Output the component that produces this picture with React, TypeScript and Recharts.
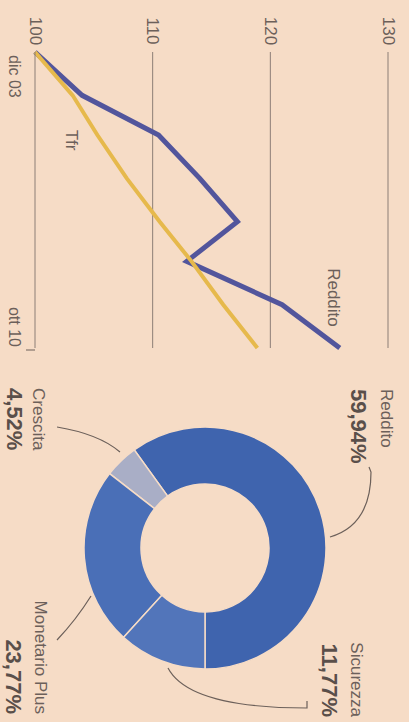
import React from 'react';
import {
  LineChart,
  Line,
  XAxis,
  YAxis,
  ReferenceLine,
  ReferenceDot,
  PieChart,
  Pie,
  Cell,
} from 'recharts';

// Line chart data (months since dic 03, index 100 = dic 03)
const months = [0, 12, 23, 35, 47, 58, 70, 82];
const redditoValues = [100, 104, 110.5, 114, 117.2, 112.9, 121, 125.9];
const tfrValues = [100, 103.2, 105.3, 107.8, 110.6, 113.3, 116, 118.9];
const xTickValues = [0, 82];
const xTickLabels = ['dic 03', 'ott 10'];
const yTicks = [100, 110, 120, 130];
const gridValues = [110, 120, 130];

// Donut data
const sliceNames = ['Reddito', 'Crescita', 'Monetario Plus', 'Sicurezza'];
const sliceShares = [59.94, 4.52, 23.77, 11.77];

const PAPER = '#f6dcc6';
const INK = '#6c605a';
const SLICE_COLORS = ['#3f64ae', '#a9aec6', '#4a6fb7', '#5275ba'];

const FONT = "'Liberation Sans', Arial, sans-serif";

const lineData = months.map((m, i) => ({
  m,
  reddito: redditoValues[i],
  tfr: tfrValues[i],
}));

const pieData = sliceNames.map((name, i) => ({ name, value: sliceShares[i] }));

// label placement for the donut (pie svg coordinates)
const PIE_LABELS: Record<string, { x: number; anchor: 'start' | 'end'; nameY: number; pctY: number; path: string }> = {
  Reddito: { x: 29, anchor: 'start', nameY: 23, pctY: 51, path: 'M 107 40 L 112 38 Q 165 38 177 79' },
  Sicurezza: { x: 357, anchor: 'end', nameY: 53, pctY: 80, path: 'M 308 241 Q 348 220 348 102 L 341 102' },
  Crescita: { x: 28, anchor: 'start', nameY: 371, pctY: 395, path: 'M 67 352 Q 74 310 92 289' },
  'Monetario Plus': { x: 354, anchor: 'end', nameY: 369, pctY: 396, path: 'M 280 352 Q 260 333 236 318' },
};

const fmtPct = (v: number) => `${v.toFixed(2).replace('.', ',')}%`;

const YTick = (props: any) => {
  const { y, payload } = props;
  return (
    <text x={31} y={y} textAnchor="middle" dominantBaseline="central" fill={INK} fontSize={17} fontFamily={FONT}>
      {payload.value}
    </text>
  );
};

const XTick = (props: any) => {
  const { x, payload } = props;
  const idx = xTickValues.indexOf(payload.value);
  const isEnd = idx === xTickValues.length - 1;
  return (
    <g>
      {isEnd && <line x1={x + 2} y1={374} x2={x + 2} y2={383} stroke={INK} strokeWidth={1} />}
      <text
        x={isEnd ? x - 1 : x + 3}
        y={395}
        textAnchor={isEnd ? 'end' : 'start'}
        dominantBaseline="central"
        fill={INK}
        fontSize={16}
        fontFamily={FONT}
      >
        {xTickLabels[idx]}
      </text>
    </g>
  );
};

const seriesLabel = (text: string) => (props: any) => {
  const { viewBox } = props;
  const cx = viewBox.x + (viewBox.width || 0) / 2;
  const cy = viewBox.y + (viewBox.height || 0) / 2;
  return (
    <text x={cx} y={cy} textAnchor="middle" dominantBaseline="central" fill={INK} fontSize={17} fontFamily={FONT}>
      {text}
    </text>
  );
};

const renderPieLabel = (props: any) => {
  const { name, value } = props;
  const l = PIE_LABELS[name];
  if (!l) return null;
  return (
    <g>
      <path d={l.path} fill="none" stroke={INK} strokeWidth={1.2} />
      <text x={l.x} y={l.nameY} textAnchor={l.anchor} dominantBaseline="central" fill={INK} fontSize={17} fontFamily={FONT}>
        {name}
      </text>
      <text x={l.x} y={l.pctY} textAnchor={l.anchor} dominantBaseline="central" fill="#5a4f4a" fontSize={22} fontWeight="bold" fontFamily={FONT}>
        {fmtPct(value)}
      </text>
    </g>
  );
};

export default function App() {
  return (
    <div style={{ position: 'fixed', left: 0, top: 0, width: 409, height: 722, overflow: 'hidden', background: PAPER }}>
      <div
        style={{
          position: 'absolute',
          left: 0,
          top: 0,
          width: 722,
          height: 409,
          display: 'flex',
          transformOrigin: '0 0',
          transform: 'translate(409px, 0) rotate(90deg)',
        }}
      >
        <LineChart width={360} height={409} data={lineData} margin={{ top: 21, right: 12, bottom: 0, left: 0 }}>
          {gridValues.map((v) => (
            <ReferenceLine key={v} y={v} stroke="#8c7e76" strokeWidth={1} />
          ))}
          <XAxis
            dataKey="m"
            type="number"
            domain={[0, 82]}
            ticks={xTickValues}
            height={35}
            axisLine={{ stroke: '#8c7e76' }}
            tickLine={false}
            tick={<XTick />}
          />
          <YAxis
            type="number"
            domain={[100, 130]}
            ticks={yTicks}
            width={52}
            axisLine={false}
            tickLine={false}
            tick={<YTick />}
          />
          <Line
            type="linear"
            dataKey="reddito"
            stroke="#52559c"
            strokeWidth={5}
            dot={false}
            isAnimationActive={false}
          />
          <Line
            type="linear"
            dataKey="tfr"
            stroke="#e6b94c"
            strokeWidth={4}
            dot={false}
            isAnimationActive={false}
          />
          <ReferenceDot x={68} y={125.4} r={0} stroke="none" label={seriesLabel('Reddito')} />
          <ReferenceDot x={24.4} y={103.1} r={0} stroke="none" label={seriesLabel('Tfr')} />
        </LineChart>
        <PieChart width={362} height={409} margin={{ top: 0, right: 0, bottom: 0, left: 0 }}>
          <Pie
            data={pieData}
            dataKey="value"
            nameKey="name"
            cx={188}
            cy={204}
            innerRadius={64}
            outerRadius={121}
            startAngle={0}
            endAngle={360}
            stroke={PAPER}
            strokeWidth={1.5}
            label={renderPieLabel}
            labelLine={false}
            isAnimationActive={false}
          >
            {pieData.map((d, i) => (
              <Cell key={d.name} fill={SLICE_COLORS[i]} />
            ))}
          </Pie>
        </PieChart>
      </div>
    </div>
  );
}
